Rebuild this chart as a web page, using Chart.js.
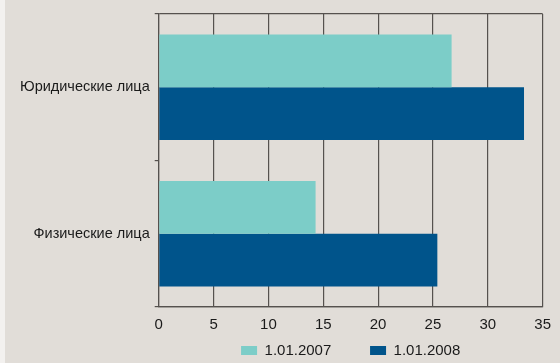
<!DOCTYPE html>
<html lang="ru">
<head>
<meta charset="UTF-8">
<title>Юридические и физические лица</title>
<script src="https://cdn.jsdelivr.net/npm/chart.js"></script>
<style>
    html, body { margin: 0; padding: 0; background: #f3f1ef; overflow: hidden; }
    #chart { position: absolute; left: 5px; top: 0; background: #e1ddd8; display: block; }
</style>
</head>
<body>
<canvas id="chart" width="555" height="363"></canvas>
<script>
    // values
    const categories = ['Юридические лица', 'Физические лица'];
    const seriesNames = ['1.01.2007', '1.01.2008'];
    const values2007 = [26.7, 14.3];
    const values2008 = [33.3, 25.4];
    const xTicks = [0, 5, 10, 15, 20, 25, 30, 35];

    const lineColor = '#55514e';
    const fontFamily = '"Liberation Sans", Arial, sans-serif';

    new Chart(document.getElementById('chart'), {
        type: 'bar',
        data: {
            labels: categories,
            datasets: [{
                label: seriesNames[0],
                data: values2007,
                backgroundColor: '#7ccdc8'
            }, {
                label: seriesNames[1],
                data: values2008,
                backgroundColor: '#00548b'
            }]
        },
        options: {
            indexAxis: 'y',
            responsive: false,
            animation: false,
            devicePixelRatio: 1,
            categoryPercentage: 0.72,
            barPercentage: 1,
            layout: { padding: { top: 14, right: 16, left: 10, bottom: -5 } },
            scales: {
                x: {
                    min: 0,
                    max: 35,
                    afterBuildTicks: axis => { axis.ticks = xTicks.map(v => ({ value: v })); },
                    grid: { color: lineColor, lineWidth: 1.2, drawTicks: false, tickLength: 0 },
                    border: { color: lineColor, width: 1.2 },
                    ticks: { color: '#1a1a1a', padding: 9, maxRotation: 0, font: { family: fontFamily, size: 15 } }
                },
                y: {
                    // top and bottom frame lines come from the category grid, middle one hidden
                    grid: {
                        offset: true,
                        tickLength: 4,
                        tickColor: lineColor,
                        lineWidth: 1.2,
                        color: ctx => ctx.index === 1 ? 'rgba(0,0,0,0)' : lineColor
                    },
                    border: { color: lineColor, width: 1.2 },
                    ticks: { color: '#1a1a1a', padding: 5, font: { family: fontFamily, size: 14.5 } }
                }
            },
            plugins: {
                tooltip: { enabled: false },
                legend: {
                    position: 'bottom',
                    fullSize: false,
                    labels: {
                        boxWidth: 16,
                        boxHeight: 9,
                        padding: 0,
                        color: '#1a1a1a',
                        font: { family: fontFamily, size: 15 },
                        // wider gap between the two legend items
                        generateLabels: chart => Chart.defaults.plugins.legend.labels.generateLabels(chart)
                            .map((item, i) => Object.assign(item, { text: i === 0 ? item.text + '\u2003\u2003\u2002\u200a' : item.text }))
                    }
                }
            }
        }
    });
</script>
</body>
</html>
